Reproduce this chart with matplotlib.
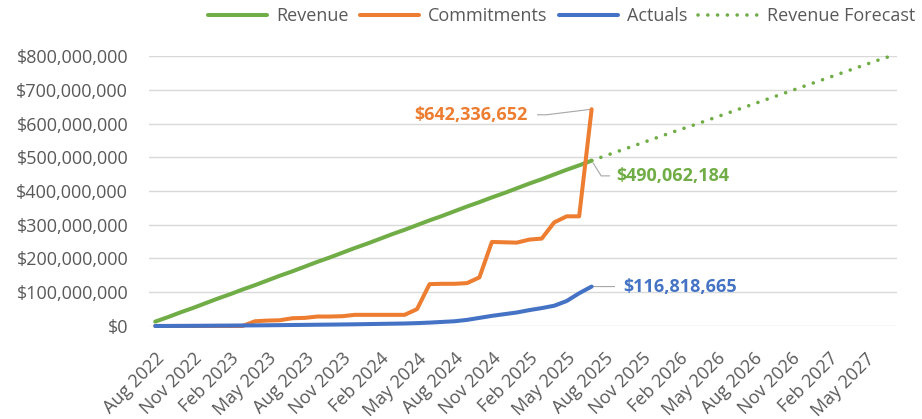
import numpy as np
import matplotlib
matplotlib.use("Agg")
import matplotlib.pyplot as plt
from matplotlib.ticker import FuncFormatter

## data (values in $ millions, one point per month starting Aug 2022)

revenue = [13, 26, 40, 53, 67, 81, 94, 108, 121, 135, 149, 162,
           176, 190, 203, 217, 231, 244, 258, 272, 285, 299, 313, 326,
           340, 354, 367, 381, 394, 408, 422, 435, 449, 463, 476, 490.062184]

commitments = [0, 0, 0, 0, 0, 0, 0, 0, 14, 16, 17, 23,
               24, 28, 28, 29, 33, 33, 33, 33, 33, 50, 124, 125,
               125, 127, 144, 249, 248, 247, 256, 259, 307, 325, 325, 642.336652]

actuals = [0, 0.1, 0.3, 0.5, 0.7, 1.0, 1.2, 1.5, 1.8, 2.1, 2.5, 2.9,
           3.3, 3.7, 4.1, 4.5, 5.0, 5.6, 6.2, 6.8, 7.4, 8.5, 10, 12,
           14, 18, 24, 30, 35, 40, 47, 53, 60, 74, 97, 116.818665]

# forecast runs from Jul 2025 to Jul 2027
forecast = [490.062184, 503, 516, 529, 542, 555, 568, 581, 593, 606, 619, 632,
            645, 658, 671, 684, 697, 710, 723, 736, 749, 762, 775, 788, 800]

tick_labels = ['Aug 2022', 'Nov 2022', 'Feb 2023', 'May 2023', 'Aug 2023',
               'Nov 2023', 'Feb 2024', 'May 2024', 'Aug 2024', 'Nov 2024',
               'Feb 2025', 'May 2025', 'Aug 2025', 'Nov 2025', 'Feb 2026',
               'May 2026', 'Aug 2026', 'Nov 2026', 'Feb 2027', 'May 2027']

n_months = 60

## colours / style
green = '#70AD47'
orange = '#ED7D31'
blue = '#4472C4'
grey_text = '#595959'
grid_col = '#D9D9D9'
leader_col = '#A6A6A6'

plt.rcParams['font.family'] = ['Open Sans', 'DejaVu Sans']
fs = 13

fig = plt.figure(figsize=(9.22, 4.19), dpi=100, facecolor='white')
ax = fig.add_axes([0.1616, 0.222, 0.973 - 0.1616, 0.8663 - 0.222])

x_actual = np.arange(len(revenue))
x_fore = np.arange(len(revenue) - 1, len(revenue) - 1 + len(forecast))
rev = np.array(revenue) * 1e6
com = np.array(commitments) * 1e6
act = np.array(actuals) * 1e6
fc = np.array(forecast) * 1e6

lw = 2.9
ax.plot(x_actual, rev, color=green, lw=lw, label='Revenue', clip_on=False,
        solid_capstyle='round', solid_joinstyle='round', zorder=3)
ax.plot(x_actual, com, color=orange, lw=lw, label='Commitments', clip_on=False,
        solid_capstyle='round', solid_joinstyle='round', zorder=4)
ax.plot(x_actual, act, color=blue, lw=lw, label='Actuals', clip_on=False,
        solid_capstyle='round', solid_joinstyle='round', zorder=5)
ax.plot(x_fore, fc, color=green, lw=2.6, linestyle=(0, (0.01, 2.7)),
        dash_capstyle='round', label='Revenue Forecast', clip_on=False, zorder=3)

ax.set_xlim(-0.5, n_months - 0.5)
ax.set_ylim(0, 800e6)
ax.set_yticks(np.arange(0, 800e6 + 1, 100e6))
ax.yaxis.set_major_formatter(FuncFormatter(lambda v, p: f"${v:,.0f}"))
ax.set_xticks(np.arange(0, n_months, 3))
ax.set_xticklabels(tick_labels)
for lab in ax.get_xticklabels():
    lab.set_rotation(45)
    lab.set_ha('right')
    lab.set_va('top')
    lab.set_rotation_mode('anchor')

ax.tick_params(axis='y', length=0, pad=15, labelsize=fs, labelcolor=grey_text)
ax.tick_params(axis='x', length=0, pad=17, labelsize=fs, labelcolor=grey_text)
ax.grid(axis='y', color=grid_col, lw=1.0)
ax.set_axisbelow(True)
for s in ax.spines.values():
    s.set_visible(False)

## data labels
last = len(revenue) - 1
ax.annotate(f"${com[-1]:,.0f}", xy=(last, com[-1]), xytext=(-46, -4),
            textcoords='offset points', ha='right', va='center', fontsize=fs,
            fontweight='bold', color=orange,
            arrowprops=dict(arrowstyle='-', color=leader_col, lw=0.8, relpos=(1, 0.5),
                            shrinkA=5, shrinkB=0,
                            connectionstyle='angle,angleA=0,angleB=7,rad=0'))
ax.annotate(f"${rev[-1]:,.0f}", xy=(last, rev[-1]), xytext=(18, -11),
            textcoords='offset points', ha='left', va='center', fontsize=fs,
            fontweight='bold', color=green,
            arrowprops=dict(arrowstyle='-', color=leader_col, lw=0.8, relpos=(0, 0.5),
                            shrinkA=3, shrinkB=2,
                            connectionstyle='angle,angleA=0,angleB=-58,rad=0'))
ax.annotate(f"${act[-1]:,.0f}", xy=(last, act[-1]), xytext=(22.5, 0),
            textcoords='offset points', ha='left', va='center', fontsize=fs,
            fontweight='bold', color=blue,
            arrowprops=dict(arrowstyle='-', color=leader_col, lw=0.8, relpos=(0, 0.5),
                            shrinkA=4, shrinkB=1))

## legend
leg = fig.legend(loc='center', bbox_to_anchor=(0.609, 1 - 16 / 419), ncol=4,
                 frameon=False, fontsize=fs, handlelength=3.3, handletextpad=0.5,
                 columnspacing=0.6, borderpad=0, borderaxespad=0)
for t in leg.get_texts():
    t.set_color(grey_text)

fig.savefig('out.png', dpi=100, facecolor='white')
